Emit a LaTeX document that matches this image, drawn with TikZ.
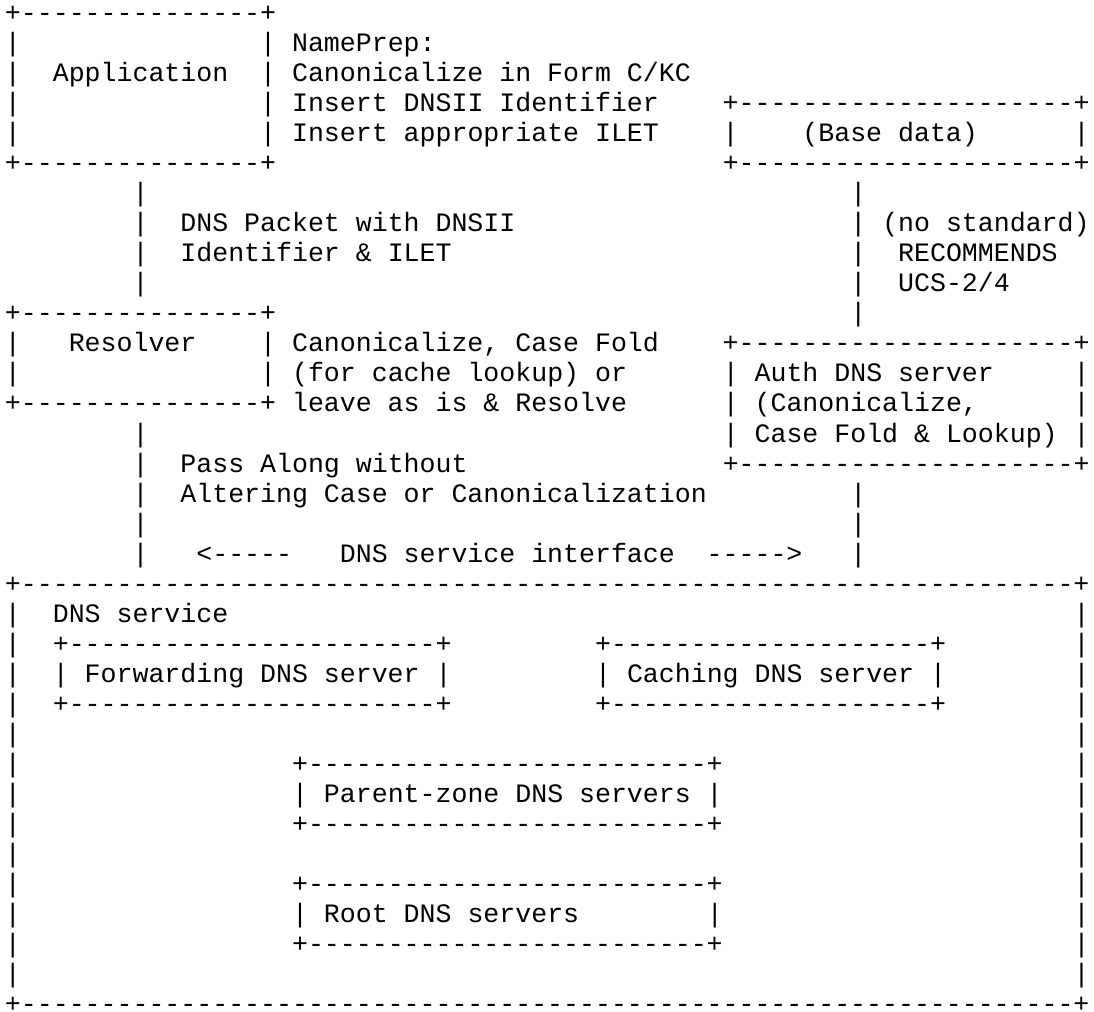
\documentclass[tikz,border=0pt]{standalone}
\usepackage{fontspec}
\setmonofont{Liberation Mono}
\newlength\cw
\ExplSyntaxOn
\NewDocumentCommand\dsh{m}{\prg_replicate:nn{#1}{-}}
\ExplSyntaxOff
\newcommand\gp[1]{\hspace*{#1\cw}}
\tikzset{
  asciirow/.style={anchor=base west, inner sep=0pt, outer sep=0pt,
    text depth=0pt, text height=6pt,
    font=\ttfamily\fontsize{10pt}{12pt}\selectfont, text=black}
}
\begin{document}
\frenchspacing
\settowidth{\cw}{\ttfamily\fontsize{10pt}{12pt}\selectfont 0}
\begin{tikzpicture}
\useasboundingbox (0,0) rectangle (411.6pt,-380.7pt);
\fill[white] (0,0) rectangle (411.6pt,-380.7pt);
\begin{scope}[shift={(1.88pt,-8.1pt)}, x=1pt, y=-11.3pt]
\node[asciirow] (r1)  at (0,0)  {+\dsh{15}+};
\node[asciirow] (r2)  at (0,1)  {|\gp{15}| NamePrep:};
\node[asciirow] (r3)  at (0,2)  {|\gp{2}Application\gp{2}| Canonicalize in Form C/KC};
\node[asciirow] (r4)  at (0,3)  {|\gp{15}| Insert DNSII Identifier\gp{4}+\dsh{21}+};
\node[asciirow] (r5)  at (0,4)  {|\gp{15}| Insert appropriate ILET\gp{4}|\gp{4}(Base data)\gp{6}|};
\node[asciirow] (r6)  at (0,5)  {+\dsh{15}+\gp{28}+\dsh{21}+};
\node[asciirow] (r7)  at (0,6)  {\gp{8}|\gp{44}|};
\node[asciirow] (r8)  at (0,7)  {\gp{8}|\gp{2}DNS Packet with DNSII\gp{21}| (no standard)};
\node[asciirow] (r9)  at (0,8)  {\gp{8}|\gp{2}Identifier \& ILET\gp{25}|\gp{2}RECOMMENDS};
\node[asciirow] (r10) at (0,9)  {\gp{8}|\gp{44}|\gp{2}UCS-2/4};
\node[asciirow] (r11) at (0,10) {+\dsh{15}+\gp{36}|};
\node[asciirow] (r12) at (0,11) {|\gp{3}Resolver\gp{4}| Canonicalize, Case Fold\gp{4}+\dsh{21}+};
\node[asciirow] (r13) at (0,12) {|\gp{15}| (for cache lookup) or\gp{6}| Auth DNS server\gp{5}|};
\node[asciirow] (r14) at (0,13) {+\dsh{15}+ leave as is \& Resolve\gp{6}| (Canonicalize,\gp{6}|};
\node[asciirow] (r15) at (0,14) {\gp{8}|\gp{36}| Case Fold \& Lookup) |};
\node[asciirow] (r16) at (0,15) {\gp{8}|\gp{2}Pass Along without\gp{16}+\dsh{21}+};
\node[asciirow] (r17) at (0,16) {\gp{8}|\gp{2}Altering Case or Canonicalization\gp{9}|};
\node[asciirow] (r18) at (0,17) {\gp{8}|\gp{44}|};
\node[asciirow] (r19) at (0,18) {\gp{8}|\gp{3}<\dsh{5}\gp{3}DNS service interface\gp{2}\dsh{5}>\gp{3}|};
\node[asciirow] (r20) at (0,19) {+\dsh{66}+};
\node[asciirow] (r21) at (0,20) {|\gp{2}DNS service\gp{53}|};
\node[asciirow] (r22) at (0,21) {|\gp{2}+\dsh{23}+\gp{9}+\dsh{20}+\gp{8}|};
\node[asciirow] (r23) at (0,22) {|\gp{2}| Forwarding DNS server |\gp{9}| Caching DNS server |\gp{8}|};
\node[asciirow] (r24) at (0,23) {|\gp{2}+\dsh{23}+\gp{9}+\dsh{20}+\gp{8}|};
\node[asciirow] (r25) at (0,24) {|\gp{66}|};
\node[asciirow] (r26) at (0,25) {|\gp{17}+\dsh{25}+\gp{22}|};
\node[asciirow] (r27) at (0,26) {|\gp{17}| Parent-zone DNS servers |\gp{22}|};
\node[asciirow] (r28) at (0,27) {|\gp{17}+\dsh{25}+\gp{22}|};
\node[asciirow] (r29) at (0,28) {|\gp{66}|};
\node[asciirow] (r30) at (0,29) {|\gp{17}+\dsh{25}+\gp{22}|};
\node[asciirow] (r31) at (0,30) {|\gp{17}| Root DNS servers\gp{8}|\gp{22}|};
\node[asciirow] (r32) at (0,31) {|\gp{17}+\dsh{25}+\gp{22}|};
\node[asciirow] (r33) at (0,32) {|\gp{66}|};
\node[asciirow] (r34) at (0,33) {+\dsh{66}+};
\end{scope}
\end{tikzpicture}
\end{document}
